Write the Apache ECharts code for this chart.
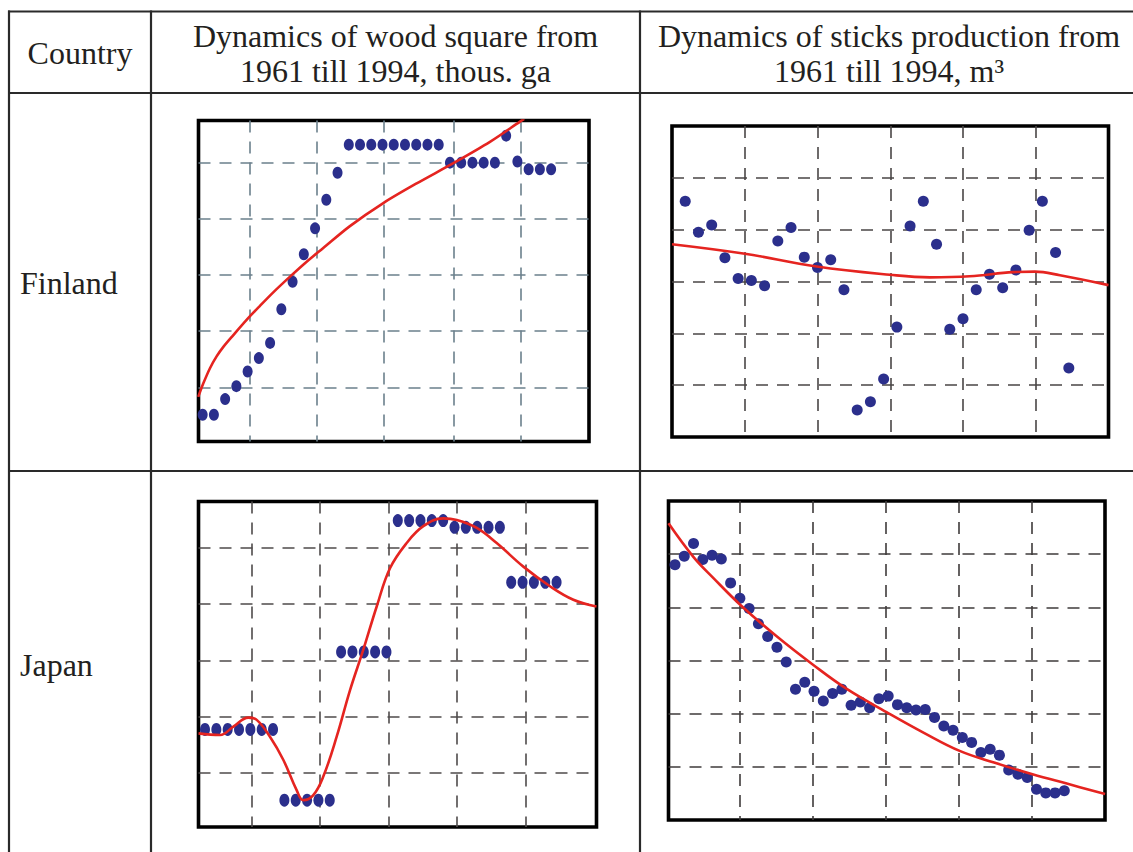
<!DOCTYPE html>
<html><head><meta charset="utf-8">
<script src="https://cdn.jsdelivr.net/npm/echarts@6/dist/echarts.min.js"></script>
<style>html,body{margin:0;padding:0;background:#fff}#c{width:1133px;height:852px}</style>
</head><body><div id="c"></div>
<script>
// ---------- texts ----------
const headerCountry = 'Country';
const headerWood = ['Dynamics of wood square from', '1961 till 1994, thous. ga'];
const headerSticks = ['Dynamics of sticks production from', '1961 till 1994, m\u00B3'];
const countries = ['Finland', 'Japan'];

// ---------- Finland, wood square ----------
const finWoodX = [1,2,3,4,5,6,7,8,9,10,11,12,13,14,15,16,17,18,19,20,21,22,23,24,25,26,27,28,29,30,31,32];
const finWoodY = [0.51,0.51,0.79,1.02,1.28,1.52,1.79,2.39,2.88,3.37,3.83,4.34,4.82,5.32,5.32,5.32,5.32,5.32,5.32,5.32,5.32,5.32,5.0,5.0,5.0,5.0,5.0,5.48,5.02,4.88,4.88,4.88];
const finWoodFitX = [0.61,1.06,1.65,2.24,2.84,3.73,4.91,6.10,7.28,8.77,10.10,11.73,14.10,17.07,20.04,23.30,26.56,29.23,29.6];
const finWoodFitY = [0.83,1.07,1.34,1.55,1.72,1.93,2.20,2.45,2.69,2.97,3.21,3.48,3.87,4.28,4.63,4.99,5.37,5.73,5.78];
const finWoodGridX = [5.21,11.14,17.13,23.30,29.29];
const finWoodGridY = [1,2,3,4,5];

// ---------- Finland, sticks production ----------
const finStickX = [1,2,3,4,5,6,7,8,9,10,11,12,13,14,15,16,17,18,19,20,21,22,23,24,25,26,27,28,29,30];
const finStickY = [4.55,3.95,4.09,3.46,3.06,3.02,2.92,3.78,4.04,3.47,3.27,3.42,2.84,0.52,0.68,1.12,2.12,4.07,4.55,3.72,2.08,2.28,2.84,3.14,2.88,3.22,3.99,4.55,3.56,1.33];
const finStickFitX = [0,5.39,10.94,16.48,19.5,22.5,25.8,27.44,29.33,33];
const finStickFitY = [3.72,3.54,3.29,3.13,3.08,3.10,3.18,3.19,3.12,2.93];
const finStickGridX = [5.5,11,16.5,22,27.5];
const finStickGridY = [1,2,3,4,5];

// ---------- Japan, wood square ----------
const japWoodX = [1,2,3,4,5,6,7,8,9,10,11,12,13,14,15,16,17,18,19,20,21,22,23,24,25,26,27,28,29,30,31,32];
const japWoodY = [1.77,1.77,1.77,1.77,1.77,1.77,1.77,0.51,0.51,0.51,0.51,0.51,3.15,3.15,3.15,3.15,3.15,5.49,5.49,5.49,5.49,5.49,5.37,5.37,5.37,5.37,5.37,4.39,4.39,4.39,4.39,4.39];
const japWoodFitX = [0.43,2.32,3.5,4.82,5.56,6.73,7.9,9.08,9.67,10.55,11.43,12.61,13.79,14.96,16.14,17.31,18.78,20.25,22.01,23.2,24.96,26.72,29.07,31.42,33.48,35.52];
const japWoodFitY = [1.70,1.67,1.82,1.98,1.94,1.64,1.23,0.69,0.51,0.60,0.93,1.64,2.47,3.19,3.96,4.64,5.09,5.39,5.53,5.50,5.36,5.09,4.67,4.32,4.08,3.96];
const japWoodGridX = [5.12,11.14,17.16,23.19,29.28];
const japWoodGridY = [1,2,3,4,5];

// ---------- Japan, sticks production ----------
const japStickX = [1,2,3,4,5,6,7,8,9,10,11,12,13,14,15,16,17,18,19,20,21,22,23,24,25,26,27,28,29,30,31,32,33,34,35,36,37,38,39,40,41,42,43];
const japStickY = [4.80,4.96,5.20,4.90,4.98,4.91,4.46,4.17,3.98,3.69,3.45,3.25,2.97,2.46,2.59,2.42,2.24,2.38,2.46,2.16,2.22,2.11,2.28,2.33,2.17,2.11,2.07,2.08,1.93,1.77,1.69,1.55,1.46,1.27,1.33,1.22,0.94,0.86,0.80,0.58,0.51,0.51,0.55];
const japStickFitX = [0.3,2.98,5.15,8.03,12.0,15.89,19.57,23.82,27.85,31.71,35.42,39.57,43.36,47.4];
const japStickFitY = [5.58,4.95,4.55,4.05,3.45,2.92,2.46,2.03,1.64,1.30,1.08,0.86,0.68,0.49];
const japStickGridX = [8.01,15.85,23.76,31.63,39.47];
const japStickGridY = [1,2,3,4,5];

// ---------- layout / style ----------
const zip = (a, b) => a.map((v, i) => [v, b[i]]);
const panels = [
  {x: finWoodX, y: finWoodY, fx: finWoodFitX, fy: finWoodFitY, gx: finWoodGridX, gy: finWoodGridY,
   xr: [0.63, 35.37], yr: [0.035, 5.75], rect: {left: 198.5, top: 120.5, width: 390.5, height: 321},
   gridColor: '#6b808c', sym: [10, 12], smooth: 0.3},
  {x: finStickX, y: finStickY, fx: finStickFitX, fy: finStickFitY, gx: finStickGridX, gy: finStickGridY,
   xr: [0, 33], yr: [0, 6], rect: {left: 672, top: 126, width: 436.5, height: 311},
   gridColor: '#4a4646', sym: [11, 11], smooth: 0.4},
  {x: japWoodX, y: japWoodY, fx: japWoodFitX, fy: japWoodFitY, gx: japWoodGridX, gy: japWoodGridY,
   xr: [0.427, 35.52], yr: [0.032, 5.83], rect: {left: 198.5, top: 501.5, width: 398, height: 325.5},
   gridColor: '#4f4b4b', sym: [10, 13], smooth: 0.4},
  {x: japStickX, y: japStickY, fx: japStickFitX, fy: japStickFitY, gx: japStickGridX, gy: japStickGridY,
   xr: [0.3, 47.39], yr: [0, 6], rect: {left: 668.5, top: 501, width: 436.5, height: 319},
   gridColor: '#3f3b3b', sym: [11, 11], smooth: 0.4}
];

const dash = [12, 9];
const grids = panels.map(p => Object.assign({show: true, borderColor: '#000', borderWidth: 3.6,
  backgroundColor: 'transparent', containLabel: false, outerBoundsMode: 'none'}, p.rect));
const xAxes = panels.map((p, i) => ({
  type: 'value', gridIndex: i, min: p.xr[0], max: p.xr[1],
  axisLine: {show: false}, axisLabel: {show: false},
  axisTick: {show: false, customValues: p.gx},
  splitLine: {show: true, lineStyle: {color: p.gridColor, width: 1.6, type: dash}}
}));
const yAxes = panels.map((p, i) => ({
  type: 'value', gridIndex: i, min: p.yr[0], max: p.yr[1],
  axisLine: {show: false}, axisLabel: {show: false},
  axisTick: {show: false, customValues: p.gy},
  splitLine: {show: true, lineStyle: {color: p.gridColor, width: 1.6, type: dash}}
}));
const series = [];
panels.forEach((p, i) => {
  series.push({type: 'scatter', xAxisIndex: i, yAxisIndex: i, data: zip(p.x, p.y),
    symbol: 'circle', symbolSize: p.sym, itemStyle: {color: '#2b2f8c', opacity: 1}, z: 3, silent: true});
  series.push({type: 'line', xAxisIndex: i, yAxisIndex: i, data: zip(p.fx, p.fy),
    smooth: p.smooth, showSymbol: false, clip: true, silent: true,
    lineStyle: {color: '#e52420', width: 2.6}, z: 4});
});

const lineCol = '#2a2a2a';
const L = (x1, y1, x2, y2) => ({type: 'line', silent: true, z: 10,
  shape: {x1, y1, x2, y2}, style: {stroke: lineCol, lineWidth: 2.2}});
const font = '32px "Liberation Serif", "Times New Roman", serif';
const T = (text, x, y, align) => ({type: 'text', silent: true, z: 10, x: x, y: y,
  style: {text: text, font: font, fill: '#231f20', textAlign: align || 'center', textVerticalAlign: 'middle'}});

const graphics = [
  L(8, 11.5, 1133, 11.5), L(8, 93, 1133, 93), L(8, 471, 1133, 471),
  L(9, 10.5, 9, 852), L(151, 10.5, 151, 852), L(640, 10.5, 640, 852),
  T(headerCountry, 80, 53),
  T(headerWood[0], 395.5, 36), T(headerWood[1], 395.5, 71),
  T(headerSticks[0], 889, 36), T(headerSticks[1], 889, 71),
  T(countries[0], 20, 283, 'left'), T(countries[1], 20, 665, 'left')
];

const chart = echarts.init(document.getElementById('c'), null, {renderer: 'svg'});
chart.setOption({
  animation: false,
  backgroundColor: '#fff',
  grid: grids, xAxis: xAxes, yAxis: yAxes, series: series,
  graphic: {elements: graphics}
});
</script></body></html>
